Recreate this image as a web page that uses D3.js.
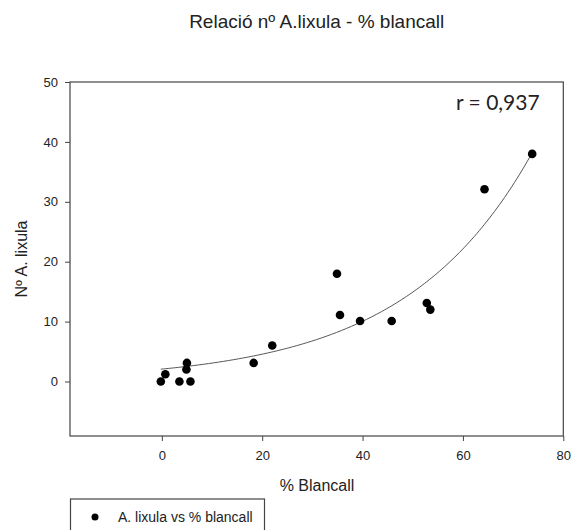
<!DOCTYPE html>
<html>
<head>
<meta charset="utf-8">
<script src="https://cdn.jsdelivr.net/npm/d3@7"></script>
<style>
  body { margin: 0; background: #fff; }
  text { font-family: "Liberation Sans", Arial, sans-serif; fill: #222; }
</style>
</head>
<body>
<div id="chart"></div>
<script>
// data
var blancall = [-0.2, 0.7, 3.5, 4.9, 5.0, 5.7, 18.3, 22, 34.9, 35.5, 39.5, 45.8, 52.8, 53.5, 64.3, 73.8];
var lixula = [0, 1.2, 0, 2, 3.1, 0, 3.1, 6, 18, 11.1, 10.1, 10.1, 13.1, 12, 32.1, 38];
var xTicks = [0, 20, 40, 60, 80];
var yTicks = [0, 10, 20, 30, 40, 50];
// exponential fit y = a * exp(b * x), estimated from the drawn curve
var fitA = 2.07, fitB = 0.0395;

var width = 573, height = 530;
var margin = { top: 82, right: 10, bottom: 94, left: 70 };

var svg = d3.select("#chart").append("svg")
  .attr("width", width)
  .attr("height", height);

var x = d3.scaleLinear().domain([-18.3, 80]).range([margin.left, 563.3]);
var y = d3.scaleLinear().domain([-9.1, 50]).range([height - margin.bottom, margin.top]);

// frame
svg.append("rect")
  .attr("x", margin.left).attr("y", margin.top)
  .attr("width", x.range()[1] - margin.left)
  .attr("height", y.range()[0] - margin.top)
  .attr("fill", "none")
  .attr("stroke", "#444")
  .attr("stroke-width", 1.2);

var xAxis = svg.append("g")
  .attr("transform", "translate(0," + y.range()[0] + ")")
  .call(d3.axisBottom(x).tickValues(xTicks).tickSize(5).tickPadding(10));
var yAxis = svg.append("g")
  .attr("transform", "translate(" + margin.left + ",0)")
  .call(d3.axisLeft(y).tickValues(yTicks).tickSize(5).tickPadding(7));

[xAxis, yAxis].forEach(function (g) {
  g.select(".domain").remove();
  g.selectAll("line").attr("stroke", "#444");
  g.selectAll("text").style("font-size", "13px").attr("fill", "#222")
    .style("font-family", "'Liberation Sans', Arial, sans-serif");
});

// fitted curve
var xs = d3.range(d3.min(blancall), d3.max(blancall) + 0.01, 0.5);
var line = d3.line()
  .x(function (d) { return x(d); })
  .y(function (d) { return y(fitA * Math.exp(fitB * d)); });
svg.append("path")
  .datum(xs)
  .attr("d", line)
  .attr("fill", "none")
  .attr("stroke", "#555")
  .attr("stroke-width", 1);

// points
svg.append("g").selectAll("circle")
  .data(blancall)
  .enter()
  .append("circle")
  .attr("cx", function (d) { return x(d); })
  .attr("cy", function (d, i) { return y(lixula[i]); })
  .attr("r", 4.3)
  .attr("fill", "#000");

// title and labels
svg.append("text")
  .attr("x", 316.7).attr("y", 28)
  .attr("text-anchor", "middle")
  .style("font-size", "19px")
  .text("Relació nº A.lixula - % blancall");

svg.append("text")
  .attr("x", 317).attr("y", 491)
  .attr("text-anchor", "middle")
  .style("font-size", "16px")
  .text("% Blancall");

svg.append("text")
  .attr("transform", "translate(27,259) rotate(-90)")
  .attr("text-anchor", "middle")
  .style("font-size", "16px")
  .text("Nº A. lixula");

svg.append("text")
  .attr("x", 456).attr("y", 110)
  .style("font-family", "Lato, 'Open Sans', sans-serif")
  .style("font-size", "21px")
  .attr("fill", "#000")
  .text("r = 0,937");

// legend
var legend = svg.append("g");
legend.append("rect")
  .attr("x", 70.5).attr("y", 499)
  .attr("width", 194).attr("height", 40)
  .attr("fill", "#fff")
  .attr("stroke", "#444")
  .attr("stroke-width", 1.2);
legend.append("circle")
  .attr("cx", 95).attr("cy", 517)
  .attr("r", 3.5)
  .attr("fill", "#000");
legend.append("text")
  .attr("x", 118).attr("y", 522)
  .style("font-size", "14px")
  .text("A. lixula vs % blancall");
</script>
</body>
</html>
